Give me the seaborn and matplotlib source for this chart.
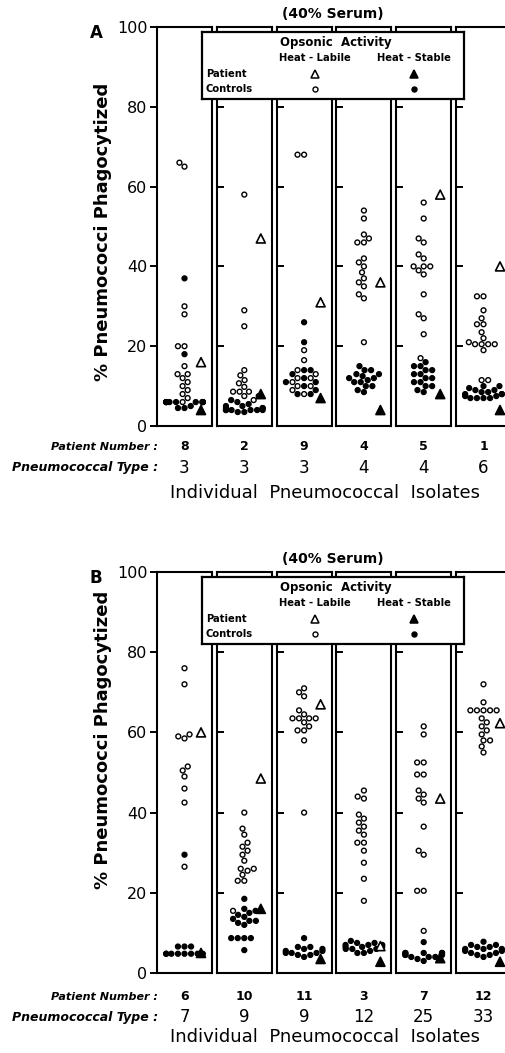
import numpy as np
import pandas as pd
import matplotlib
matplotlib.use("Agg")
import matplotlib.pyplot as plt
import seaborn as sns
from matplotlib.transforms import blended_transform_factory

# ---------------- data ----------------
# Panel A
a_patients = ["8", "2", "9", "4", "5", "1"]
a_types = ["3", "3", "3", "4", "4", "6"]
a_ctrl_labile = [
    [66, 65, 30, 28, 20, 20, 15, 13, 13, 12, 11, 10, 9, 8, 7, 6, 6],
    [58, 29, 25, 14, 12.7, 11.5, 10.7, 9.8, 8.6, 8.6, 8.6, 7.5, 7.5, 6.5],
    [68, 68, 19, 16.5, 14, 13, 12, 12, 11, 10, 10, 9, 8],
    [54, 52, 48, 47, 46, 46, 42, 41, 40, 38.5, 37, 36, 35, 33, 32, 21],
    [56, 52, 47, 46, 43, 42, 40, 40, 40, 39, 38, 33, 28, 27, 23, 17],
    [32.5, 32.5, 29, 27, 25.5, 25.5, 23.5, 22, 21, 20.5, 20.5, 20.5, 20.5, 19, 11.5, 11.5],
]
a_ctrl_stable = [
    [37, 18, 6, 6, 6, 6, 6, 6, 6, 6, 6, 6, 5, 4.5, 4.5],
    [6.5, 6, 5.5, 5, 5, 4.5, 4.5, 4.5, 4, 4, 4, 4, 4, 4, 3.5, 3.5],
    [26, 21, 14, 14, 13, 12, 11, 11, 10, 9, 8, 8],
    [15, 14, 14, 13, 13, 12.5, 12, 12, 11.5, 11, 11, 10, 10, 9, 8.5],
    [16, 15, 15, 14, 14, 13, 13, 12, 12, 11, 11, 10, 10, 9, 8.5],
    [10, 10, 9.5, 9, 9, 8.5, 8.5, 8, 8, 8, 7.5, 7.5, 7, 7, 7, 7],
]
a_patient_labile = [16, 47, 31, 36, 58, 40]
a_patient_stable = [4, 8, 7, 4, 8, 4]

# Panel B
b_patients = ["6", "10", "11", "3", "7", "12"]
b_types = ["7", "9", "9", "12", "25", "33"]
b_ctrl_labile = [
    [76, 72, 59.5, 59, 58.5, 51.5, 50.5, 49, 46, 42.5, 26.5],
    [40, 36, 34.5, 32.5, 31.5, 30.5, 29.5, 28, 26, 26, 25.5, 24.5, 23, 23, 15.5],
    [71, 70, 69, 65.5, 64.5, 63.5, 63.5, 63.5, 63.5, 62.5, 61.5, 60.5, 60.5, 58, 40],
    [45.5, 44, 43.5, 39.5, 38.5, 37.5, 36.5, 35.5, 34.5, 32.5, 32.5, 30.5, 27.5, 23.5, 18],
    [61.5, 59.5, 52.5, 52.5, 49.5, 49.5, 45.5, 44.5, 43.5, 42.5, 36.5, 30.5, 29.5, 20.5, 20.5, 10.5],
    [72, 67.5, 65.5, 65.5, 65.5, 65.5, 65.5, 63.5, 62.5, 61.5, 60.5, 59.5, 58, 58, 56.5, 55],
]
b_ctrl_stable = [
    [29.5, 6.6, 6.6, 6.6, 4.8, 4.8, 4.8, 4.8, 4.8, 4.8, 4.8, 4.8],
    [18.5, 16, 15.5, 15, 14.5, 14, 13.5, 13, 13, 12.5, 12, 8.7, 8.7, 8.7, 8.7, 5.7],
    [8.7, 6.5, 6.5, 6, 6, 5.5, 5.5, 5, 5, 5, 4.5, 4.5, 4],
    [8, 7.5, 7.5, 7, 7, 7, 6.5, 6.5, 6.5, 6, 6, 6, 5.5, 5, 5],
    [7.7, 5, 5, 5, 5, 5, 4.5, 4.5, 4.5, 4.5, 4, 4, 4, 3.5, 3],
    [7.8, 7, 7, 6.5, 6.5, 6, 6, 6, 5.5, 5.5, 5, 5, 4.5, 4.5, 4],
]
b_patient_labile = [60, 48.5, 67, 6.7, 43.5, 62.3]
b_patient_stable = [5, 16, 3.5, 2.8, 3.7, 2.8]

y_ticks = [0, 20, 40, 60, 80, 100]
kinds = ["Heat-Labile", "Heat-Stable"]

# ---------------- style ----------------
sns.set_theme(style="white", rc={
    "axes.edgecolor": "black", "axes.linewidth": 1.4,
    "ytick.color": "black", "text.color": "black",
})
plt.rcParams["font.family"] = ["DejaVu Sans"]

W, H = 506, 1053
fig = plt.figure(figsize=(W / 100, H / 100), dpi=100)
fig.patch.set_facecolor("white")

fill = {"Heat-Labile": "white", "Heat-Stable": "black"}
BOX_LEFT, BOX_W, BOX_STEP = 157, 55, 59.8
PAT_X = 0.36


def fy(px):
    return 1 - px / H


def draw_panel(letter, top_px, zero_px, patients, types, ctrl_lab, ctrl_stab,
               pat_lab, pat_stab, rows_px, ylab_px):
    for i in range(6):
        ax = fig.add_axes([(BOX_LEFT + i * BOX_STEP) / W, fy(zero_px),
                           BOX_W / W, (zero_px - top_px) / H])
        ctrl = pd.DataFrame({
            "value": list(ctrl_lab[i]) + list(ctrl_stab[i]),
            "kind": ["Heat-Labile"] * len(ctrl_lab[i]) + ["Heat-Stable"] * len(ctrl_stab[i]),
        })
        pat = pd.DataFrame({"value": [pat_lab[i], pat_stab[i]], "kind": kinds})
        pat["pos"] = PAT_X
        sns.swarmplot(data=ctrl, y="value", hue="kind", hue_order=kinds,
                      palette=fill, edgecolor="black", linewidth=1.0, size=3.5,
                      ax=ax, legend=False, warn_thresh=1.0)
        sns.scatterplot(data=pat, x="pos", y="value", hue="kind", hue_order=kinds,
                        palette=fill, marker="^", s=42, edgecolor="black",
                        linewidth=1.2, ax=ax, legend=False, zorder=5)
        ax.set_xlim(-0.6, 0.6)
        ax.set_ylim(0, 100)
        ax.set_xticks([])
        ax.set_xlabel("")
        ax.set_ylabel("")
        for s in ax.spines.values():
            s.set_linewidth(1.5)
            s.set_color("black")
        if i == 0:
            ax.set_yticks(y_ticks)
            ax.set_yticklabels([str(t) for t in y_ticks])
            ax.tick_params(axis="y", left=True, direction="out", length=5,
                           width=1.4, labelsize=11.5, pad=2)
        else:
            ax.set_yticks(y_ticks[1:-1])
            ax.tick_params(axis="y", left=True, direction="in", length=5,
                           width=1.4, labelleft=False)
        tr = blended_transform_factory(ax.transAxes, fig.transFigure)
        ax.text(0.5, fy(rows_px[0]), patients[i], transform=tr, ha="center",
                va="center", fontsize=9, fontweight="bold", clip_on=False)
        ax.text(0.5, fy(rows_px[1]), types[i], transform=tr, ha="center",
                va="center", fontsize=12, clip_on=False)

    fig.text(158 / W, fy(rows_px[0]), "Patient Number :", ha="right", va="center",
             fontsize=8, fontweight="bold", style="italic")
    fig.text(158 / W, fy(rows_px[1]), "Pneumococcal Type :", ha="right", va="center",
             fontsize=9, fontweight="bold", style="italic")
    fig.text(325 / W, fy(rows_px[2]), "Individual  Pneumococcal  Isolates",
             ha="center", va="center", fontsize=13)
    fig.text(333 / W, fy(top_px - 13), "(40% Serum)", ha="center", va="center",
             fontsize=10, fontweight="bold")
    fig.text(96 / W, fy(top_px + 6), letter, ha="center", va="center",
             fontsize=12, fontweight="bold")
    fig.text(103 / W, fy(ylab_px), "% Pneumococci Phagocytized", rotation=90,
             ha="center", va="center", fontsize=13, fontweight="bold")

    # legend box
    lx0, lx1 = 202, 464
    ly0, ly1 = top_px + 5, top_px + 72
    lax = fig.add_axes([lx0 / W, fy(ly1), (lx1 - lx0) / W, (ly1 - ly0) / H], zorder=10)
    lax.set_facecolor("white")
    lax.set_xlim(0, 1)
    lax.set_ylim(0, 1)
    lax.set_xticks([])
    lax.set_yticks([])
    for s in lax.spines.values():
        s.set_linewidth(1.6)
        s.set_color("black")
    lax.text(0.51, 0.84, "Opsonic  Activity", ha="center", va="center",
             fontsize=8.5, fontweight="bold")
    lax.text(0.43, 0.61, "Heat - Labile", ha="center", va="center",
             fontsize=7.2, fontweight="bold")
    lax.text(0.81, 0.61, "Heat - Stable", ha="center", va="center",
             fontsize=7.2, fontweight="bold")
    lax.text(0.015, 0.37, "Patient", ha="left", va="center", fontsize=7.2, fontweight="bold")
    lax.text(0.015, 0.15, "Controls", ha="left", va="center", fontsize=7.2, fontweight="bold")
    lax.plot([0.43], [0.37], marker="^", ms=6, mfc="white", mec="black", mew=1.1, ls="none")
    lax.plot([0.81], [0.37], marker="^", ms=6, mfc="black", mec="black", mew=1.1, ls="none")
    lax.plot([0.43], [0.15], marker="o", ms=3.6, mfc="white", mec="black", mew=1.0, ls="none")
    lax.plot([0.81], [0.15], marker="o", ms=3.6, mfc="black", mec="black", mew=1.0, ls="none")


draw_panel("A", 27, 426, a_patients, a_types, a_ctrl_labile, a_ctrl_stable,
           a_patient_labile, a_patient_stable, (447, 468, 493), 232)
draw_panel("B", 572, 973, b_patients, b_types, b_ctrl_labile, b_ctrl_stable,
           b_patient_labile, b_patient_stable, (997, 1017, 1037), 740)

fig.savefig("out.png", dpi=100, facecolor="white")
